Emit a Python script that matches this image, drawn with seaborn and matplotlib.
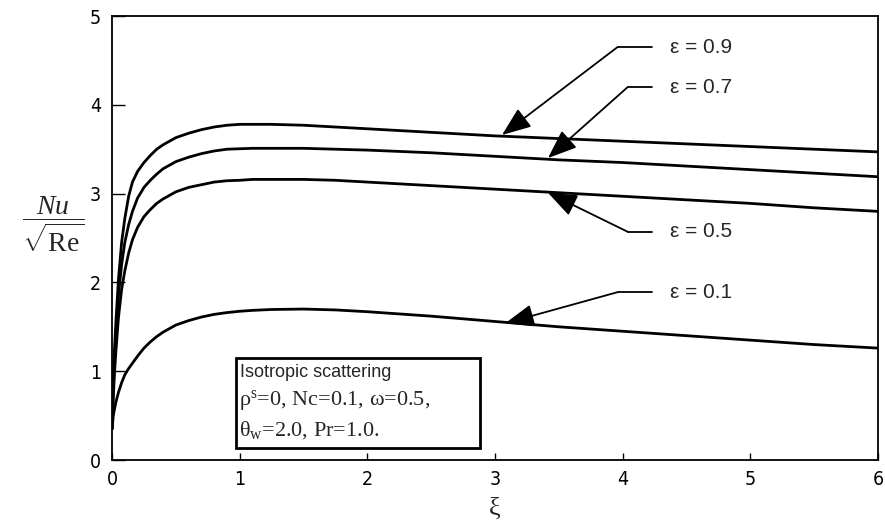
import matplotlib
matplotlib.use('Agg')
import matplotlib.pyplot as plt
from matplotlib.patches import Rectangle
import pandas as pd
import seaborn as sns

# values
xi = [0, 0.01, 0.02, 0.03, 0.05, 0.075, 0.1, 0.13, 0.16, 0.2, 0.25, 0.3,
      0.35, 0.4, 0.45, 0.5, 0.6, 0.7, 0.8, 0.9, 1.0, 1.1, 1.25, 1.5, 1.75,
      2, 2.5, 3, 3.5, 4, 4.5, 5, 5.5, 6]
nu_09 = [0.35, 0.95, 1.27, 1.55, 2.03, 2.45, 2.72, 2.97, 3.13, 3.25, 3.35, 3.43,
         3.50, 3.55, 3.59, 3.63, 3.68, 3.72, 3.75, 3.77, 3.78, 3.78, 3.78, 3.77,
         3.75, 3.73, 3.69, 3.65, 3.62, 3.59, 3.56, 3.53, 3.50, 3.47]
nu_07 = [0.35, 0.82, 1.15, 1.40, 1.85, 2.20, 2.45, 2.65, 2.80, 2.95, 3.07, 3.15,
         3.22, 3.28, 3.32, 3.36, 3.41, 3.45, 3.48, 3.50, 3.505, 3.51, 3.51, 3.51,
         3.50, 3.49, 3.46, 3.42, 3.38, 3.35, 3.31, 3.27, 3.23, 3.19]
nu_05 = [0.35, 0.72, 1.00, 1.22, 1.60, 1.92, 2.13, 2.33, 2.48, 2.62, 2.74, 2.82,
         2.89, 2.94, 2.98, 3.02, 3.07, 3.10, 3.13, 3.145, 3.15, 3.16, 3.16, 3.16,
         3.15, 3.13, 3.09, 3.05, 3.01, 2.97, 2.93, 2.89, 2.84, 2.80]
nu_01 = [0.35, 0.50, 0.58, 0.65, 0.76, 0.87, 0.96, 1.03, 1.09, 1.17, 1.26, 1.33,
         1.39, 1.44, 1.48, 1.52, 1.57, 1.61, 1.64, 1.66, 1.675, 1.685, 1.695, 1.70,
         1.69, 1.67, 1.62, 1.56, 1.50, 1.45, 1.40, 1.35, 1.30, 1.26]

eps_labels = ['ε = 0.9', 'ε = 0.7', 'ε = 0.5', 'ε = 0.1']
# (arrow tip, elbow) in data units, horizontal leader runs to leader_end
tips = [(3.055, 3.66), (3.415, 3.40), (3.415, 3.01), (3.08, 1.54)]
elbows = [(3.96, 4.65), (4.04, 4.20), (4.04, 2.57), (3.96, 1.89)]
leader_end = 4.23
label_x = 4.37

df = pd.DataFrame({
    'xi': xi * 4,
    'nu': nu_09 + nu_07 + nu_05 + nu_01,
    'eps': sum([[e] * len(xi) for e in eps_labels], []),
})

sns.set_style('ticks')
plt.rcParams['font.family'] = ['Liberation Sans', 'DejaVu Sans']
plt.rcParams['mathtext.fontset'] = 'custom'
plt.rcParams['mathtext.rm'] = 'Liberation Serif'
plt.rcParams['mathtext.it'] = 'Liberation Serif:italic'

fig = plt.figure(figsize=(8.85, 5.25), dpi=100)
ax = fig.add_axes([0.1266, 0.1238, 0.992 - 0.1266, 0.9695 - 0.1238])

sns.lineplot(data=df, x='xi', y='nu', hue='eps', ax=ax, legend=False,
             palette=['black'] * 4, linewidth=2.0, solid_joinstyle='round')

ax.set_xlim(0, 6)
ax.set_ylim(0, 5)
ax.set_xticks(range(7))
ax.set_yticks(range(6))
for lab in ax.get_xticklabels() + ax.get_yticklabels():
    lab.set_family(['DejaVu Sans'])
    lab.set_stretch('condensed')
    lab.set_fontsize(14)
ax.tick_params(axis='y', direction='in', length=9.5, width=1, pad=8, colors='black')
ax.tick_params(axis='x', direction='in', length=5, width=1, pad=7, colors='black')
for sp in ax.spines.values():
    sp.set_visible(True)
    sp.set_linewidth(1.3)
    sp.set_color('black')

ax.set_xlabel('ξ', fontsize=19, family=['Liberation Serif', 'DejaVu Serif'],
              labelpad=6)
ax.set_ylabel(r'$\dfrac{Nu}{\sqrt{\mathrm{Re}}}$', fontsize=20, rotation=0,
              va='center', ha='center')
ax.yaxis.set_label_coords(-0.077, 0.53)

for lab, tip, elb in zip(eps_labels, tips, elbows):
    ax.annotate('', xy=tip, xytext=elb,
                arrowprops=dict(arrowstyle='-|>,head_length=0.9,head_width=0.35',
                                color='black', lw=1.3, shrinkA=0, shrinkB=0,
                                mutation_scale=20))
    ax.plot([elb[0], leader_end], [elb[1], elb[1]], color='black', lw=1.3)
    ax.text(label_x, elb[1], lab, fontsize=15, va='center', ha='left')

# parameter box
serif = ['Liberation Serif', 'DejaVu Serif']
ax.add_patch(Rectangle((0.97, 0.13), 1.91, 1.02, fill=False, lw=2.0,
                       edgecolor='black', zorder=5))
ax.text(1.00, 0.99, 'Isotropic scattering', fontsize=13, va='center')
ax.text(0.995, 0.67, 'ρ$^{\\mathrm{s}}$=0, Nc=0.1, ω=0.5,',
        fontsize=16, va='center', family=serif)
ax.text(0.995, 0.34, 'θ$_{\\mathrm{w}}$=2.0, Pr=1.0.',
        fontsize=16, va='center', family=serif)

fig.savefig('out.png', dpi=100)
